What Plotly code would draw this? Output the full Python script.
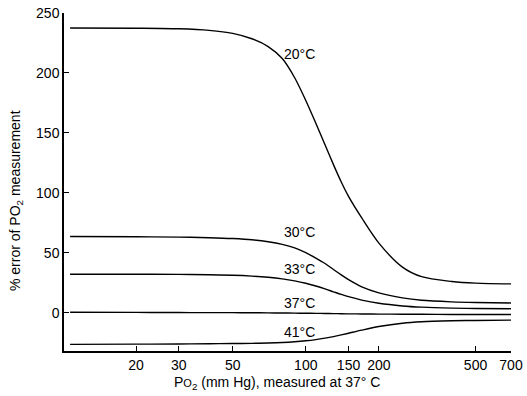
import math
import plotly.graph_objects as go

# ---- data ----
po2 = [10.7, 20, 30, 40, 50, 60, 70, 80, 90, 100, 110, 120, 130, 140, 150,
       170, 200, 250, 300, 400, 500, 700]

err_20 = [237.5, 237.3, 236.8, 235.5, 233.0, 228.5, 222.0, 212.0, 196.0, 177.0,
          158.0, 140.0, 123.5, 109.0, 97.0, 79.0, 58.0, 38.0, 30.0, 26.0, 24.6, 24.0]
err_30 = [63.5, 63.3, 63.0, 62.5, 61.8, 60.8, 59.2, 57.0, 54.0, 50.0,
          45.5, 41.0, 36.0, 31.5, 27.5, 21.5, 16.5, 12.3, 10.3, 9.0, 8.5, 8.1]
err_33 = [32.0, 32.0, 31.9, 31.6, 31.2, 30.5, 29.5, 28.2, 26.5, 24.5,
          22.2, 19.8, 17.4, 15.2, 13.3, 10.5, 7.8, 5.6, 4.6, 3.8, 3.5, 3.3]
err_37 = [0.3, 0.2, 0.1, 0.0, 0.0, -0.1, -0.2, -0.3, -0.4, -0.5,
          -0.6, -0.7, -0.8, -0.9, -1.0, -1.1, -1.2, -1.3, -1.4, -1.5, -1.5, -1.6]
err_41 = [-26.5, -26.3, -26.1, -25.9, -25.8, -25.6, -25.3, -24.9, -24.3, -23.5,
          -22.5, -21.3, -20.0, -18.6, -17.2, -14.6, -11.6, -8.8, -7.6, -6.8, -6.5, -6.2]

series_names = ["20°C", "30°C", "33°C", "37°C", "41°C"]
series_values = [err_20, err_30, err_33, err_37, err_41]

x_ticks = [20, 30, 50, 100, 150, 200, 500, 700]
y_ticks = [0, 50, 100, 150, 200, 250]

# label anchor positions (data coords)
label_x = 80
label_y = [215.7, 67.0, 36.8, 8.4, -15.9]

FONT = "Liberation Sans, Arial, Helvetica, sans-serif"

W, H = 527, 396
# target plot area in page pixels: x 64..511, y 13..351
ML, MT = 64, 13
MR = W - 511
MB = H - 351
PW, PH = W - ML - MR, H - MT - MB


def px_to_paper_x(px):
    return (px - ML) / PW


def py_to_paper_y(py):
    return (H - MB - py) / PH


fig = go.Figure()
for name, vals in zip(series_names, series_values):
    fig.add_trace(go.Scatter(
        x=po2, y=vals, mode="lines", name=name,
        line=dict(color="black", width=1.4, shape="spline", smoothing=0.9),
        showlegend=False, hoverinfo="skip",
    ))

for name, ly in zip(series_names, label_y):
    fig.add_annotation(
        x=math.log10(label_x), y=ly, xref="x", yref="y",
        text=name, showarrow=False, xanchor="left", yanchor="middle",
        font=dict(family=FONT, size=14, color="black"),
    )

# axis titles as annotations for precise placement
fig.add_annotation(
    x=px_to_paper_x(277), y=py_to_paper_y(383), xref="paper", yref="paper",
    text="P<span style='font-size:11px'>O</span><sub>2</sub> (mm Hg), measured at 37° C",
    showarrow=False, xanchor="center", yanchor="middle",
    font=dict(family=FONT, size=14, color="black"),
)
fig.add_annotation(
    x=px_to_paper_x(16), y=py_to_paper_y(201), xref="paper", yref="paper",
    text="% error of PO<sub>2</sub> measurement", textangle=-90,
    showarrow=False, xanchor="center", yanchor="middle",
    font=dict(family=FONT, size=14, color="black"),
)

fig.update_layout(
    width=W, height=H,
    margin=dict(l=ML, r=MR, t=MT, b=MB, autoexpand=False),
    paper_bgcolor="white", plot_bgcolor="white",
    font=dict(family=FONT, size=14, color="black"),
    xaxis=dict(
        type="log", range=[math.log10(10.1), math.log10(700)],
        tickvals=x_ticks, ticktext=[str(v) for v in x_ticks],
        ticks="inside", ticklen=5, tickwidth=1.3, tickcolor="black",
        showline=True, linecolor="black", linewidth=1.5,
        showgrid=False, zeroline=False, automargin=False,
        ticklabeloverflow="allow",
        tickfont=dict(family=FONT, size=14, color="black"),
    ),
    yaxis=dict(
        range=[-32, 250],
        tickvals=y_ticks,
        ticks="inside", ticklen=5, tickwidth=1.3, tickcolor="black",
        showline=True, linecolor="black", linewidth=1.5,
        showgrid=False, zeroline=False, automargin=False,
        ticklabeloverflow="allow",
        tickfont=dict(family=FONT, size=14, color="black"),
    ),
)

fig.write_html(
    "out.html",
    config={"displayModeBar": False},
    post_script="document.body.style.margin='0';document.body.style.overflow='hidden';",
)
